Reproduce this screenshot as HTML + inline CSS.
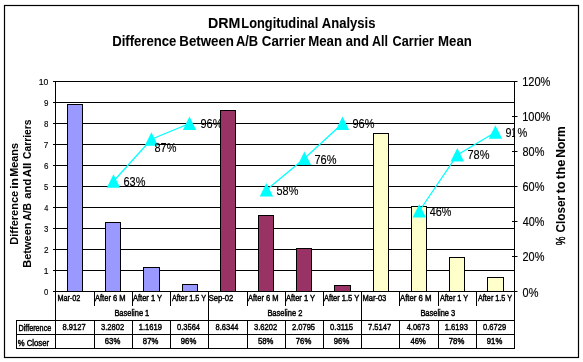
<!DOCTYPE html>
<html><head><meta charset="utf-8"><style>
html,body{margin:0;padding:0;background:#fff;width:583px;height:362px;overflow:hidden}
svg{display:block;will-change:transform}
text{font-family:"Liberation Sans",sans-serif;fill:#000;stroke:#000;stroke-width:0.45}
</style></head><body>
<svg width="583" height="362" viewBox="0 0 583 362">
<rect width="583" height="362" fill="#fff"/>
<rect x="4.5" y="5.5" width="574" height="352" fill="none" stroke="#000" stroke-width="1.2"/>
<text transform="matrix(0.9794 0 0 1 208.04 28.00)" font-size="14.535" font-weight="bold" style="stroke-width:0.05">DRM</text>
<text transform="matrix(0.8841 0 0 1 241.33 28.00)" font-size="14.535" font-weight="bold" style="stroke-width:0.05">Longitudinal</text>
<text transform="matrix(0.8975 0 0 1 321.87 28.00)" font-size="14.535" font-weight="bold" style="stroke-width:0.05">Analysis</text>
<text transform="matrix(0.9034 0 0 1 112.21 46.00)" font-size="14.535" font-weight="bold" style="stroke-width:0.05">Difference</text>
<text transform="matrix(0.9150 0 0 1 179.30 46.00)" font-size="14.535" font-weight="bold" style="stroke-width:0.05">Between</text>
<text transform="matrix(0.8868 0 0 1 235.98 46.00)" font-size="14.535" font-weight="bold" style="stroke-width:0.05">A/B</text>
<text transform="matrix(0.9152 0 0 1 261.87 46.00)" font-size="14.535" font-weight="bold" style="stroke-width:0.05">Carrier</text>
<text transform="matrix(0.9126 0 0 1 308.20 46.00)" font-size="14.535" font-weight="bold" style="stroke-width:0.05">Mean</text>
<text transform="matrix(0.8955 0 0 1 345.71 46.00)" font-size="14.535" font-weight="bold" style="stroke-width:0.05">and</text>
<text transform="matrix(0.8611 0 0 1 371.89 46.00)" font-size="14.535" font-weight="bold" style="stroke-width:0.05">All</text>
<text transform="matrix(0.8704 0 0 1 392.59 46.00)" font-size="14.535" font-weight="bold" style="stroke-width:0.05">Carrier</text>
<text transform="matrix(0.9098 0 0 1 438.11 46.00)" font-size="14.535" font-weight="bold" style="stroke-width:0.05">Mean</text>
<line x1="53" y1="81.5" x2="514.5" y2="81.5" stroke="#000" stroke-width="1"/>
<line x1="53" y1="102.5" x2="514.5" y2="102.5" stroke="#000" stroke-width="1"/>
<line x1="53" y1="123.5" x2="514.5" y2="123.5" stroke="#000" stroke-width="1"/>
<line x1="53" y1="144.5" x2="514.5" y2="144.5" stroke="#000" stroke-width="1"/>
<line x1="53" y1="165.5" x2="514.5" y2="165.5" stroke="#000" stroke-width="1"/>
<line x1="53" y1="186.5" x2="514.5" y2="186.5" stroke="#000" stroke-width="1"/>
<line x1="53" y1="207.5" x2="514.5" y2="207.5" stroke="#000" stroke-width="1"/>
<line x1="53" y1="228.5" x2="514.5" y2="228.5" stroke="#000" stroke-width="1"/>
<line x1="53" y1="249.5" x2="514.5" y2="249.5" stroke="#000" stroke-width="1"/>
<line x1="53" y1="270.5" x2="514.5" y2="270.5" stroke="#000" stroke-width="1"/>
<line x1="53" y1="291.5" x2="514.5" y2="291.5" stroke="#000" stroke-width="1"/>
<text transform="matrix(0.7926 0 0 1 43.99 294.50)" font-size="9.777" style="stroke-width:0.15">0</text>
<text transform="matrix(0.8750 0 0 1 43.66 273.50)" font-size="9.777" style="stroke-width:0.15">1</text>
<text transform="matrix(0.8318 0 0 1 43.89 252.50)" font-size="9.777" style="stroke-width:0.15">2</text>
<text transform="matrix(0.7968 0 0 1 44.01 231.50)" font-size="9.777" style="stroke-width:0.15">3</text>
<text transform="matrix(0.7494 0 0 1 44.14 210.50)" font-size="9.777" style="stroke-width:0.15">4</text>
<text transform="matrix(0.7968 0 0 1 43.99 189.50)" font-size="9.777" style="stroke-width:0.15">5</text>
<text transform="matrix(0.8183 0 0 1 43.90 168.50)" font-size="9.777" style="stroke-width:0.15">6</text>
<text transform="matrix(0.8364 0 0 1 43.87 147.50)" font-size="9.777" style="stroke-width:0.15">7</text>
<text transform="matrix(0.8052 0 0 1 43.97 126.50)" font-size="9.777" style="stroke-width:0.15">8</text>
<text transform="matrix(0.8183 0 0 1 43.92 105.50)" font-size="9.777" style="stroke-width:0.15">9</text>
<text transform="matrix(0.8921 0 0 1 38.65 84.50)" font-size="9.777" style="stroke-width:0.15">10</text>
<rect x="67.5" y="104.5" width="15" height="187" fill="#9999FF" stroke="#000" stroke-width="1"/>
<rect x="105.5" y="222.5" width="15" height="69" fill="#9999FF" stroke="#000" stroke-width="1"/>
<rect x="143.5" y="267.5" width="16" height="24" fill="#9999FF" stroke="#000" stroke-width="1"/>
<rect x="182.5" y="284.5" width="15" height="7" fill="#9999FF" stroke="#000" stroke-width="1"/>
<rect x="220.5" y="110.5" width="15" height="181" fill="#993366" stroke="#000" stroke-width="1"/>
<rect x="258.5" y="215.5" width="15" height="76" fill="#993366" stroke="#000" stroke-width="1"/>
<rect x="296.5" y="248.5" width="15" height="43" fill="#993366" stroke="#000" stroke-width="1"/>
<rect x="334.5" y="285.5" width="16" height="6" fill="#993366" stroke="#000" stroke-width="1"/>
<rect x="373.5" y="133.5" width="15" height="158" fill="#FFFFCC" stroke="#000" stroke-width="1"/>
<rect x="411.5" y="206.5" width="15" height="85" fill="#FFFFCC" stroke="#000" stroke-width="1"/>
<rect x="449.5" y="257.5" width="15" height="34" fill="#FFFFCC" stroke="#000" stroke-width="1"/>
<rect x="487.5" y="277.5" width="16" height="14" fill="#FFFFCC" stroke="#000" stroke-width="1"/>
<polyline points="113.50,181.25 151.40,139.25 189.50,123.50" fill="none" stroke="#00FFFF" stroke-width="1.3"/>
<polyline points="266.40,190.00 304.40,158.50 342.50,123.50" fill="none" stroke="#00FFFF" stroke-width="1.3"/>
<polyline points="419.30,211.00 457.30,155.00 495.40,132.25" fill="none" stroke="#00FFFF" stroke-width="1.3"/>
<polygon points="113.50,174.25 106.80,187.85 120.20,187.85" fill="#00FFFF"/>
<polygon points="151.40,132.25 144.70,145.85 158.10,145.85" fill="#00FFFF"/>
<polygon points="189.50,116.50 182.80,130.10 196.20,130.10" fill="#00FFFF"/>
<polygon points="266.40,183.00 259.70,196.60 273.10,196.60" fill="#00FFFF"/>
<polygon points="304.40,151.50 297.70,165.10 311.10,165.10" fill="#00FFFF"/>
<polygon points="342.50,116.50 335.80,130.10 349.20,130.10" fill="#00FFFF"/>
<polygon points="419.30,204.00 412.60,217.60 426.00,217.60" fill="#00FFFF"/>
<polygon points="457.30,148.00 450.60,161.60 464.00,161.60" fill="#00FFFF"/>
<polygon points="495.40,125.25 488.70,138.85 502.10,138.85" fill="#00FFFF"/>
<text transform="matrix(0.8724 0 0 1 123.45 186.00)" font-size="12.570" style="stroke-width:0.15">63%</text>
<text transform="matrix(0.8690 0 0 1 154.54 152.00)" font-size="12.570" style="stroke-width:0.15">87%</text>
<text transform="matrix(0.8713 0 0 1 200.48 128.00)" font-size="12.570" style="stroke-width:0.15">96%</text>
<text transform="matrix(0.8679 0 0 1 276.56 195.00)" font-size="12.570" style="stroke-width:0.15">58%</text>
<text transform="matrix(0.8736 0 0 1 314.42 164.00)" font-size="12.570" style="stroke-width:0.15">76%</text>
<text transform="matrix(0.8713 0 0 1 352.48 128.00)" font-size="12.570" style="stroke-width:0.15">96%</text>
<text transform="matrix(0.8601 0 0 1 429.76 216.00)" font-size="12.570" style="stroke-width:0.15">46%</text>
<text transform="matrix(0.8736 0 0 1 467.42 159.00)" font-size="12.570" style="stroke-width:0.15">78%</text>
<text transform="matrix(0.8601 0 0 1 505.49 137.00)" font-size="12.570" style="stroke-width:0.15">9</text>
<text transform="matrix(0.5518 0 0 1 511.48 137.00)" font-size="12.570" style="stroke-width:0.15">1</text>
<text transform="matrix(0.8758 0 0 1 517.61 137.00)" font-size="12.570" style="stroke-width:0.15">%</text>
<rect x="220.5" y="110.5" width="15" height="181" fill="#993366" stroke="#000" stroke-width="1"/>
<line x1="55.5" y1="81" x2="55.5" y2="320.5" stroke="#000" stroke-width="1"/>
<line x1="514.5" y1="81" x2="514.5" y2="348.5" stroke="#000" stroke-width="1"/>
<line x1="512" y1="291.5" x2="517.5" y2="291.5" stroke="#000" stroke-width="1"/>
<text transform="matrix(0.8726 0 0 1 522.56 297.00)" font-size="12.570" style="stroke-width:0.15">0%</text>
<line x1="512" y1="256.5" x2="517.5" y2="256.5" stroke="#000" stroke-width="1"/>
<text transform="matrix(0.8724 0 0 1 522.45 261.00)" font-size="12.570" style="stroke-width:0.15">20%</text>
<line x1="512" y1="221.5" x2="517.5" y2="221.5" stroke="#000" stroke-width="1"/>
<text transform="matrix(0.8601 0 0 1 522.76 226.00)" font-size="12.570" style="stroke-width:0.15">40%</text>
<line x1="512" y1="186.5" x2="517.5" y2="186.5" stroke="#000" stroke-width="1"/>
<text transform="matrix(0.8724 0 0 1 522.45 191.00)" font-size="12.570" style="stroke-width:0.15">60%</text>
<line x1="512" y1="151.5" x2="517.5" y2="151.5" stroke="#000" stroke-width="1"/>
<text transform="matrix(0.8690 0 0 1 522.54 156.00)" font-size="12.570" style="stroke-width:0.15">80%</text>
<line x1="512" y1="116.5" x2="517.5" y2="116.5" stroke="#000" stroke-width="1"/>
<text transform="matrix(0.8785 0 0 1 522.17 121.00)" font-size="12.570" style="stroke-width:0.15">100%</text>
<line x1="512" y1="81.5" x2="517.5" y2="81.5" stroke="#000" stroke-width="1"/>
<text transform="matrix(0.8785 0 0 1 522.17 86.00)" font-size="12.570" style="stroke-width:0.15">120%</text>
<line x1="94.5" y1="291" x2="94.5" y2="306" stroke="#000" stroke-width="1"/>
<line x1="132.5" y1="291" x2="132.5" y2="306" stroke="#000" stroke-width="1"/>
<line x1="170.5" y1="291" x2="170.5" y2="306" stroke="#000" stroke-width="1"/>
<line x1="208.5" y1="291" x2="208.5" y2="320.5" stroke="#000" stroke-width="1"/>
<line x1="247.5" y1="291" x2="247.5" y2="306" stroke="#000" stroke-width="1"/>
<line x1="285.5" y1="291" x2="285.5" y2="306" stroke="#000" stroke-width="1"/>
<line x1="323.5" y1="291" x2="323.5" y2="306" stroke="#000" stroke-width="1"/>
<line x1="361.5" y1="291" x2="361.5" y2="320.5" stroke="#000" stroke-width="1"/>
<line x1="399.5" y1="291" x2="399.5" y2="306" stroke="#000" stroke-width="1"/>
<line x1="438.5" y1="291" x2="438.5" y2="306" stroke="#000" stroke-width="1"/>
<line x1="476.5" y1="291" x2="476.5" y2="306" stroke="#000" stroke-width="1"/>
<text transform="matrix(0.8312 0 0 1 57.40 301.00)" font-size="8.721">Mar-02</text>
<text transform="matrix(0.8659 0 0 1 94.98 301.00)" font-size="8.721">After 6 M</text>
<text transform="matrix(0.8643 0 0 1 132.98 301.00)" font-size="8.721">After 1 Y</text>
<text transform="matrix(0.8326 0 0 1 171.98 301.00)" font-size="8.721">After 1.5 Y</text>
<text transform="matrix(0.8799 0 0 1 208.65 301.00)" font-size="8.721">Sep-02</text>
<text transform="matrix(0.8659 0 0 1 247.98 301.00)" font-size="8.721">After 6 M</text>
<text transform="matrix(0.8643 0 0 1 285.98 301.00)" font-size="8.721">After 1 Y</text>
<text transform="matrix(0.8571 0 0 1 323.98 301.00)" font-size="8.721">After 1.5 Y</text>
<text transform="matrix(0.8668 0 0 1 362.38 301.00)" font-size="8.721">Mar-03</text>
<text transform="matrix(0.8948 0 0 1 399.98 301.00)" font-size="8.721">After 6 M</text>
<text transform="matrix(0.8345 0 0 1 439.98 301.00)" font-size="8.721">After 1 Y</text>
<text transform="matrix(0.8326 0 0 1 477.98 301.00)" font-size="8.721">After 1.5 Y</text>
<text transform="matrix(0.8587 0 0 1 114.38 316.00)" font-size="8.721">Baseline 1</text>
<text transform="matrix(0.8592 0 0 1 267.38 316.00)" font-size="8.721">Baseline 2</text>
<text transform="matrix(0.8578 0 0 1 420.38 316.00)" font-size="8.721">Baseline 3</text>
<line x1="16" y1="320.5" x2="515" y2="320.5" stroke="#000" stroke-width="1"/>
<line x1="16" y1="334.5" x2="515" y2="334.5" stroke="#000" stroke-width="1"/>
<line x1="16" y1="348.5" x2="515" y2="348.5" stroke="#000" stroke-width="1"/>
<line x1="16.5" y1="320" x2="16.5" y2="349" stroke="#000" stroke-width="1"/>
<line x1="55.5" y1="320" x2="55.5" y2="349" stroke="#000" stroke-width="1"/>
<line x1="94.5" y1="320" x2="94.5" y2="349" stroke="#000" stroke-width="1"/>
<line x1="132.5" y1="320" x2="132.5" y2="349" stroke="#000" stroke-width="1"/>
<line x1="170.5" y1="320" x2="170.5" y2="349" stroke="#000" stroke-width="1"/>
<line x1="208.5" y1="320" x2="208.5" y2="349" stroke="#000" stroke-width="1"/>
<line x1="247.5" y1="320" x2="247.5" y2="349" stroke="#000" stroke-width="1"/>
<line x1="285.5" y1="320" x2="285.5" y2="349" stroke="#000" stroke-width="1"/>
<line x1="323.5" y1="320" x2="323.5" y2="349" stroke="#000" stroke-width="1"/>
<line x1="361.5" y1="320" x2="361.5" y2="349" stroke="#000" stroke-width="1"/>
<line x1="399.5" y1="320" x2="399.5" y2="349" stroke="#000" stroke-width="1"/>
<line x1="438.5" y1="320" x2="438.5" y2="349" stroke="#000" stroke-width="1"/>
<line x1="476.5" y1="320" x2="476.5" y2="349" stroke="#000" stroke-width="1"/>
<line x1="514.5" y1="320" x2="514.5" y2="349" stroke="#000" stroke-width="1"/>
<text transform="matrix(0.8316 0 0 1 18.40 331.00)" font-size="8.721">Difference</text>
<text transform="matrix(0.8870 0 0 1 17.73 346.00)" font-size="8.721">% Closer</text>
<text transform="matrix(0.7762 0 0 1 62.48 330.30)" font-size="9.777">8.9127</text>
<text transform="matrix(0.7749 0 0 1 101.02 330.30)" font-size="9.777">3.2802</text>
<text transform="matrix(0.9223 0 0 1 104.81 343.70)" font-size="8.380">63%</text>
<text transform="matrix(0.7835 0 0 1 138.73 330.30)" font-size="9.777">1.1619</text>
<text transform="matrix(0.9187 0 0 1 142.87 343.70)" font-size="8.380">87%</text>
<text transform="matrix(0.7697 0 0 1 177.00 330.30)" font-size="9.777">0.3564</text>
<text transform="matrix(0.9211 0 0 1 180.83 343.70)" font-size="8.380">96%</text>
<text transform="matrix(0.7704 0 0 1 215.48 330.30)" font-size="9.777">8.6344</text>
<text transform="matrix(0.7749 0 0 1 254.02 330.30)" font-size="9.777">3.6202</text>
<text transform="matrix(0.9175 0 0 1 257.89 343.70)" font-size="8.380">58%</text>
<text transform="matrix(0.7755 0 0 1 291.92 330.30)" font-size="9.777">2.0795</text>
<text transform="matrix(0.9235 0 0 1 295.79 343.70)" font-size="8.380">76%</text>
<text transform="matrix(0.7929 0 0 1 329.99 330.30)" font-size="9.777">0.3115</text>
<text transform="matrix(0.9211 0 0 1 333.83 343.70)" font-size="8.380">96%</text>
<text transform="matrix(0.7788 0 0 1 367.90 330.30)" font-size="9.777">7.5147</text>
<text transform="matrix(0.7691 0 0 1 406.63 330.30)" font-size="9.777">4.0673</text>
<text transform="matrix(0.9092 0 0 1 410.53 343.70)" font-size="8.380">46%</text>
<text transform="matrix(0.7828 0 0 1 444.73 330.30)" font-size="9.777">1.6193</text>
<text transform="matrix(0.9235 0 0 1 448.79 343.70)" font-size="8.380">78%</text>
<text transform="matrix(0.7742 0 0 1 483.00 330.30)" font-size="9.777">0.6729</text>
<text transform="matrix(0.9211 0 0 1 486.83 343.70)" font-size="8.380">91%</text>
<text transform="translate(18.00 244.75) rotate(-90) scale(0.9515 1)" font-size="11.628" font-weight="bold" style="stroke-width:0.05">Difference</text>
<text transform="translate(18.00 188.87) rotate(-90) scale(1.0672 1)" font-size="11.628" font-weight="bold" style="stroke-width:0.05">in</text>
<text transform="translate(18.00 176.73) rotate(-90) scale(0.9337 1)" font-size="11.628" font-weight="bold" style="stroke-width:0.05">Means</text>
<text transform="translate(31.00 267.75) rotate(-90) scale(0.9495 1)" font-size="11.628" font-weight="bold" style="stroke-width:0.05">Between</text>
<text transform="translate(31.00 220.76) rotate(-90) scale(0.8899 1)" font-size="11.628" font-weight="bold" style="stroke-width:0.05">A/B</text>
<text transform="translate(31.00 198.64) rotate(-90) scale(0.9609 1)" font-size="11.628" font-weight="bold" style="stroke-width:0.05">and</text>
<text transform="translate(31.00 177.29) rotate(-90) scale(0.9818 1)" font-size="11.628" font-weight="bold" style="stroke-width:0.05">All</text>
<text transform="translate(31.00 158.91) rotate(-90) scale(0.8817 1)" font-size="11.628" font-weight="bold" style="stroke-width:0.05">Carriers</text>
<text transform="translate(565.00 232.47) rotate(-90) scale(0.9001 1)" font-size="13.082" font-weight="bold" style="stroke-width:0.05">Closer</text>
<text transform="translate(565.00 193.15) rotate(-90) scale(0.9422 1)" font-size="13.082" font-weight="bold" style="stroke-width:0.05">to</text>
<text transform="translate(565.00 179.16) rotate(-90) scale(0.9982 1)" font-size="13.082" font-weight="bold" style="stroke-width:0.05">the</text>
<text transform="translate(565.00 157.82) rotate(-90) scale(0.9238 1)" font-size="13.082" font-weight="bold" style="stroke-width:0.05">Norm</text>
<text transform="translate(565.00 245.34) rotate(-90) scale(0.7481 1)" font-size="13.082">%</text>
</svg></body></html>
